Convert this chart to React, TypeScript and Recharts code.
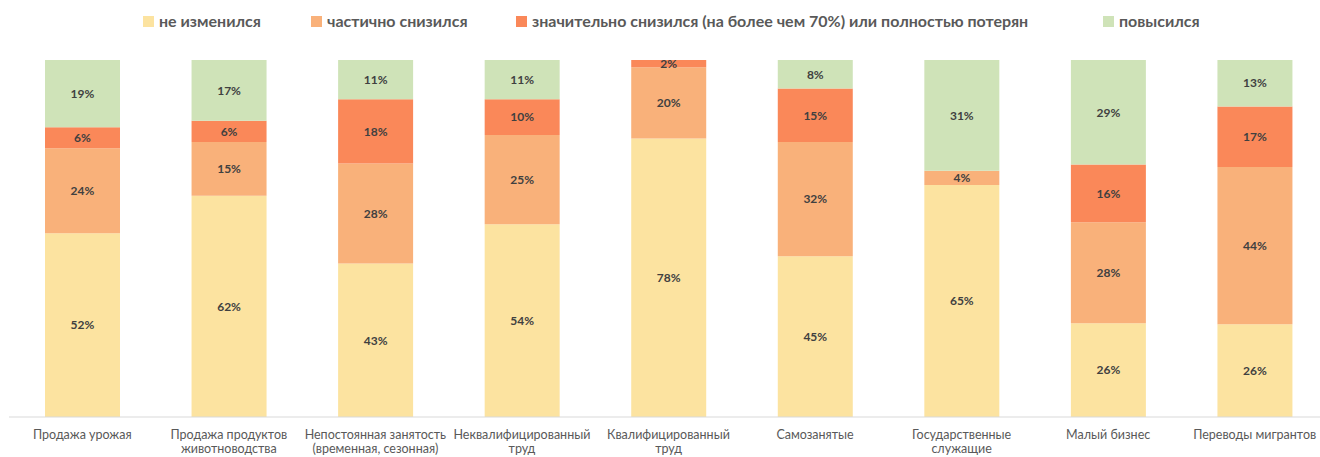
import React from 'react';
import { BarChart, Bar, XAxis, YAxis, LabelList } from 'recharts';

// category labels, '\n' marks the line break under the axis
const categories = [
  'Продажа урожая',
  'Продажа продуктов\nживотноводства',
  'Непостоянная занятость\n(временная, сезонная)',
  'Неквалифицированный\nтруд',
  'Квалифицированный\nтруд',
  'Самозанятые',
  'Государственные\nслужащие',
  'Малый бизнес',
  'Переводы мигрантов',
];

const unchanged = [52, 62, 43, 54, 78, 45, 65, 26, 26];
const partlyDecreased = [24, 15, 28, 25, 20, 32, 4, 28, 44];
const sharplyDecreased = [6, 6, 18, 10, 2, 15, 0, 16, 17];
const increased = [19, 17, 11, 11, 0, 8, 31, 29, 13];

const seriesNames = [
  'не изменился',
  'частично снизился',
  'значительно снизился (на более чем 70%) или полностью потерян',
  'повысился',
];

const series = [
  { key: 'unchanged', name: seriesNames[0], color: '#FCE3A0' },
  { key: 'partly', name: seriesNames[1], color: '#F9B17A' },
  { key: 'sharply', name: seriesNames[2], color: '#FA8859' },
  { key: 'increased', name: seriesNames[3], color: '#CFE3B8' },
];

const data = categories.map((c, i) => ({
  category: c,
  unchanged: unchanged[i],
  partly: partlyDecreased[i],
  sharply: sharplyDecreased[i],
  increased: increased[i],
}));

const FONT = "Lato, 'Open Sans', sans-serif";

// left edge of each legend marker, as in the source layout
const legendX = [143, 311, 516, 1103];

function CategoryTick(props: any) {
  const { x, y, payload } = props;
  const lines = String(payload.value).split('\n');
  return (
    <g>
      {lines.map((line: string, i: number) => (
        <text
          key={i}
          x={x}
          y={y + 20 + i * 14}
          textAnchor="middle"
          fill="#595959"
          fontSize={12.5}
          fontFamily={FONT}
        >
          {line}
        </text>
      ))}
    </g>
  );
}

const pct = (v: any) => (v ? `${v}%` : '');

export default function App() {
  return (
    <div
      style={{
        position: 'absolute',
        left: 0,
        top: 0,
        width: 1320,
        height: 457,
        overflow: 'hidden',
        background: '#fff',
      }}
    >
      {series.map((s, i) => (
        <div
          key={s.key}
          style={{
            position: 'absolute',
            left: legendX[i],
            top: 10,
            display: 'flex',
            alignItems: 'center',
            whiteSpace: 'nowrap',
            fontFamily: FONT,
            fontWeight: 700,
            fontSize: 16,
            color: '#595959',
            lineHeight: '22px',
          }}
        >
          <span style={{ width: 11, height: 11, background: s.color, marginRight: 5, display: 'inline-block' }} />
          {s.name}
        </div>
      ))}
      <div style={{ position: 'absolute', left: 0, top: 0 }}>
        <BarChart
          width={1330}
          height={457}
          data={data}
          stackOffset="expand"
          margin={{ top: 60, right: 2, bottom: 0, left: 9 }}
        >
          <XAxis
            dataKey="category"
            height={40}
            interval={0}
            tickLine={false}
            tickSize={0}
            axisLine={{ stroke: '#D9D9D9' }}
            tick={<CategoryTick />}
          />
          <YAxis hide domain={[0, 1]} />
          {series.map((s) => (
            <Bar
              key={s.key}
              dataKey={s.key}
              name={s.name}
              stackId="a"
              fill={s.color}
              barSize={75}
              isAnimationActive={false}
            >
              <LabelList
                dataKey={s.key}
                position="center"
                formatter={pct}
                fill="#404040"
                fontSize={12}
                fontWeight={700}
                fontFamily={FONT}
              />
            </Bar>
          ))}
        </BarChart>
      </div>
    </div>
  );
}
